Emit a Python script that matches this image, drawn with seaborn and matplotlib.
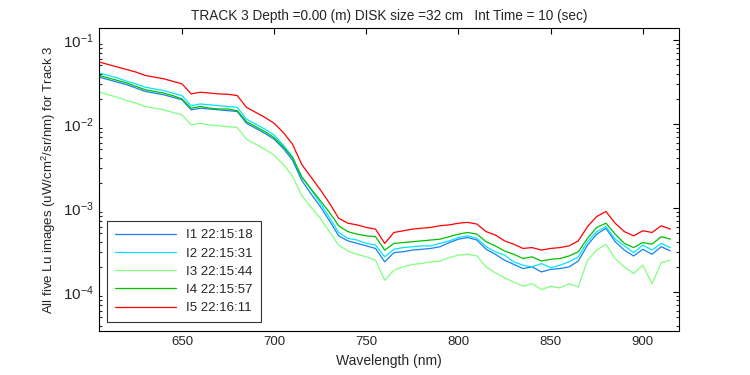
import numpy as np
import pandas as pd
import seaborn as sns
import matplotlib
matplotlib.use('Agg')
import matplotlib.pyplot as plt
from matplotlib.ticker import LogLocator, NullFormatter, FixedLocator

# wavelength grid (nm), read every 5 nm off the reference
wavelength = list(range(605, 920, 5))

# log10 of Lu (uW/cm^2/sr/nm) for each image
log_i1 = [-1.44, -1.47, -1.50, -1.53, -1.57, -1.61, -1.63, -1.65, -1.68, -1.71,
          -1.83, -1.81, -1.82, -1.83, -1.84, -1.85, -1.99, -2.05, -2.11, -2.18,
          -2.29, -2.43, -2.67, -2.83, -2.98, -3.15, -3.33, -3.39, -3.42, -3.45,
          -3.48, -3.64, -3.53, -3.52, -3.50, -3.49, -3.48, -3.46, -3.41, -3.37,
          -3.35, -3.38, -3.49, -3.55, -3.62, -3.67, -3.72, -3.70, -3.76, -3.73,
          -3.72, -3.70, -3.63, -3.44, -3.31, -3.24, -3.40, -3.50, -3.57, -3.49,
          -3.55, -3.46, -3.51]
log_i2 = [-1.39, -1.42, -1.45, -1.49, -1.52, -1.56, -1.58, -1.60, -1.63, -1.66,
          -1.78, -1.76, -1.77, -1.78, -1.79, -1.80, -1.94, -2.00, -2.06, -2.13,
          -2.25, -2.39, -2.63, -2.78, -2.94, -3.11, -3.29, -3.36, -3.38, -3.42,
          -3.44, -3.58, -3.49, -3.47, -3.46, -3.45, -3.45, -3.42, -3.39, -3.35,
          -3.33, -3.36, -3.46, -3.52, -3.56, -3.64, -3.68, -3.70, -3.66, -3.71,
          -3.68, -3.64, -3.58, -3.40, -3.28, -3.22, -3.37, -3.45, -3.53, -3.44,
          -3.50, -3.42, -3.47]
log_i3 = [-1.62, -1.65, -1.68, -1.72, -1.75, -1.79, -1.81, -1.83, -1.86, -1.89,
          -2.01, -1.99, -2.01, -2.02, -2.03, -2.04, -2.18, -2.24, -2.30, -2.37,
          -2.48, -2.62, -2.85, -2.99, -3.12, -3.28, -3.44, -3.51, -3.55, -3.58,
          -3.62, -3.86, -3.74, -3.70, -3.67, -3.66, -3.64, -3.63, -3.59, -3.56,
          -3.55, -3.57, -3.70, -3.77, -3.83, -3.88, -3.93, -3.90, -3.97, -3.93,
          -3.95, -3.90, -3.94, -3.62, -3.50, -3.43, -3.60, -3.70, -3.78, -3.68,
          -3.90, -3.65, -3.62]
log_i4 = [-1.42, -1.45, -1.48, -1.51, -1.55, -1.59, -1.61, -1.63, -1.66, -1.70,
          -1.81, -1.79, -1.81, -1.82, -1.82, -1.84, -1.97, -2.03, -2.09, -2.16,
          -2.27, -2.40, -2.63, -2.77, -2.91, -3.05, -3.21, -3.28, -3.31, -3.33,
          -3.34, -3.50, -3.42, -3.41, -3.40, -3.39, -3.38, -3.37, -3.34, -3.31,
          -3.29, -3.31, -3.40, -3.45, -3.51, -3.55, -3.60, -3.58, -3.63, -3.61,
          -3.60, -3.57, -3.52, -3.36, -3.23, -3.18, -3.31, -3.42, -3.47, -3.41,
          -3.43, -3.34, -3.37]
log_i5 = [-1.26, -1.29, -1.32, -1.35, -1.38, -1.42, -1.44, -1.46, -1.49, -1.52,
          -1.64, -1.62, -1.63, -1.64, -1.645, -1.66, -1.80, -1.86, -1.92, -1.99,
          -2.10, -2.24, -2.48, -2.63, -2.78, -2.94, -3.12, -3.18, -3.20, -3.23,
          -3.25, -3.42, -3.29, -3.27, -3.25, -3.24, -3.23, -3.21, -3.20, -3.18,
          -3.17, -3.19, -3.28, -3.32, -3.39, -3.43, -3.48, -3.47, -3.50, -3.48,
          -3.47, -3.45, -3.39, -3.22, -3.10, -3.04, -3.18, -3.28, -3.33, -3.27,
          -3.29, -3.21, -3.25]

labels = ['I1 22:15:18', 'I2 22:15:31', 'I3 22:15:44', 'I4 22:15:57', 'I5 22:16:11']
colors = ['#1a7ff0', '#00e6ff', '#80ff80', '#00c000', '#ff0000']
series = [log_i1, log_i2, log_i3, log_i4, log_i5]

frames = []
for lab, vals in zip(labels, series):
    frames.append(pd.DataFrame({'Wavelength': wavelength,
                                'Lu': 10 ** np.array(vals),
                                'Image': lab}))
data = pd.concat(frames, ignore_index=True)

sns.set_style('white')
plt.rcParams['font.family'] = ['Liberation Sans', 'DejaVu Sans']
plt.rcParams['mathtext.default'] = 'regular'

fig = plt.figure(figsize=(7.5, 3.75), dpi=100)
ax = fig.add_axes([0.132, 0.117, 0.773, 0.808])
sns.lineplot(data=data, x='Wavelength', y='Lu', hue='Image', hue_order=labels,
             palette=dict(zip(labels, colors)), linewidth=0.9, ax=ax)

ax.set_yscale('log')
ax.set_xlim(605, 919.5)
ax.set_ylim(3.43e-5, 0.139)
ax.xaxis.set_major_locator(FixedLocator([650, 700, 750, 800, 850, 900]))
ax.yaxis.set_major_locator(LogLocator(base=10, numticks=10))
ax.yaxis.set_minor_locator(LogLocator(base=10, subs=np.arange(2, 10), numticks=10))
ax.yaxis.set_minor_formatter(NullFormatter())
ax.tick_params(direction='in', top=True, right=True, labelsize=9.5,
               length=4, width=0.8, color='black')
ax.tick_params(axis='y', labelsize=11)
ax.tick_params(which='minor', direction='in', left=True, right=True,
               length=2.5, width=0.8)
for sp in ax.spines.values():
    sp.set_color('black')
    sp.set_linewidth(0.8)

ax.set_xlabel('Wavelength (nm)', fontsize=10)
ax.set_ylabel('All five Lu images (uW/cm$^2$/sr/nm) for Track 3', fontsize=9.5)
ax.set_title('TRACK 3 Depth =0.00 (m) DISK size =32 cm   Int Time = 10 (sec)',
             fontsize=9.8)

leg = ax.legend(loc='lower left', bbox_to_anchor=(0.014, 0.03), fontsize=9.5,
                frameon=True, fancybox=False, edgecolor='black',
                handlelength=4.6, labelspacing=0.45, borderpad=0.6,
                borderaxespad=0, title=None)
leg.get_frame().set_linewidth(0.8)

fig.savefig('out.png', dpi=100)
